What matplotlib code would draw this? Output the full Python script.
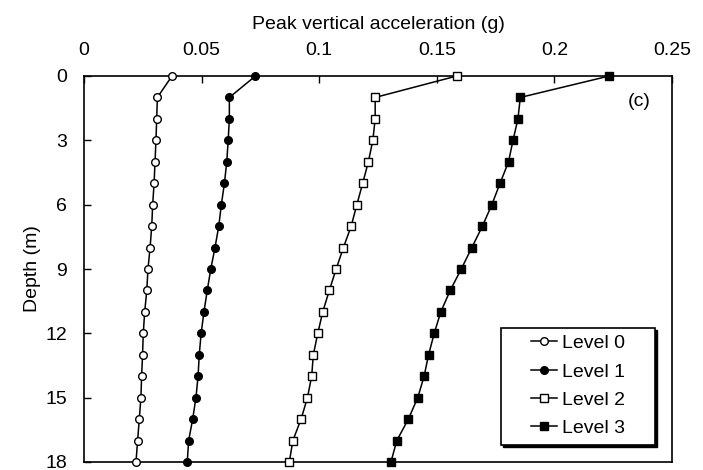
import matplotlib
matplotlib.use('Agg')
import matplotlib.pyplot as plt
from matplotlib.patches import Rectangle

plt.rcParams['font.family'] = ['Liberation Sans', 'DejaVu Sans']

depth = list(range(0, 19))

level0 = [0.0374, 0.0312, 0.0309, 0.0306, 0.0302, 0.0298, 0.0292, 0.0288, 0.0281, 0.0272,
          0.0267, 0.0258, 0.0252, 0.0249, 0.0245, 0.0242, 0.0235, 0.0228, 0.0221]
level1 = [0.0729, 0.0618, 0.0618, 0.0613, 0.0607, 0.0597, 0.0584, 0.0573, 0.0557, 0.0539,
          0.0524, 0.0510, 0.0498, 0.0490, 0.0485, 0.0476, 0.0462, 0.0445, 0.0439]
level2 = [0.1585, 0.1238, 0.1238, 0.1228, 0.1209, 0.1185, 0.1160, 0.1136, 0.1103, 0.1072,
          0.1043, 0.1015, 0.0994, 0.0975, 0.0968, 0.0950, 0.0923, 0.0888, 0.0873]
level3 = [0.2233, 0.1855, 0.1845, 0.1824, 0.1805, 0.1769, 0.1734, 0.1694, 0.1649, 0.1604,
          0.1557, 0.1517, 0.1489, 0.1465, 0.1446, 0.1419, 0.1379, 0.1330, 0.1305]

labels = ['Level 0', 'Level 1', 'Level 2', 'Level 3']
xticks = [0, 0.05, 0.1, 0.15, 0.2, 0.25]
xticklabels = ['0', '0.05', '0.1', '0.15', '0.2', '0.25']
yticks = [0, 3, 6, 9, 12, 15, 18]

fig = plt.figure(figsize=(7.03, 4.70), dpi=100)
ax = fig.add_axes([84/703, 1-462/470, (672-84)/703, (462-76)/470])

ms = 5.5
fs = 14
ax.plot(level0, depth, '-o', color='black', mfc='white', mec='black', ms=ms, lw=1.1, label=labels[0], clip_on=False, zorder=3)
ax.plot(level1, depth, '-o', color='black', mfc='black', mec='black', ms=ms, lw=1.1, label=labels[1], clip_on=False, zorder=3)
ax.plot(level2, depth, '-s', color='black', mfc='white', mec='black', ms=ms, lw=1.1, label=labels[2], clip_on=False, zorder=3)
ax.plot(level3, depth, '-s', color='black', mfc='black', mec='black', ms=ms, lw=1.1, label=labels[3], clip_on=False, zorder=3)

ax.set_xlim(0, 0.25)
ax.set_ylim(18, 0)
ax.xaxis.tick_top()
ax.xaxis.set_label_position('top')
ax.set_xticks(xticks)
ax.set_xticklabels(xticklabels)
ax.set_yticks(yticks)
ax.tick_params(axis='x', direction='in', length=5, width=1, labelsize=fs, pad=12)
ax.tick_params(axis='y', direction='in', length=5, width=1, labelsize=fs, pad=12)
ax.set_xlabel('Peak vertical acceleration (g)', fontsize=fs, labelpad=9.5)
ax.set_ylabel('Depth (m)', fontsize=fs, labelpad=3)
for s in ax.spines.values():
    s.set_linewidth(1.2)

ax.text(0.236, 1.2, '(c)', fontsize=fs, ha='center', va='center')

# legend box with a thin drop shadow, then the entries inside it
bx, by, bw, bh = 0.709, 0.044, 0.262, 0.303
ax.add_patch(Rectangle((bx + 0.004, by - 0.006), bw, bh, transform=ax.transAxes,
                       facecolor='black', edgecolor='black', zorder=4))
ax.add_patch(Rectangle((bx, by), bw, bh, transform=ax.transAxes,
                       facecolor='white', edgecolor='black', lw=1.2, zorder=5))
leg = ax.legend(loc='center', bbox_to_anchor=(0.84, 0.197), fontsize=fs, handlelength=1.35,
                handletextpad=0.25, labelspacing=0.55, borderpad=0, frameon=False)
leg.set_zorder(6)

fig.savefig('out.png', dpi=100)
